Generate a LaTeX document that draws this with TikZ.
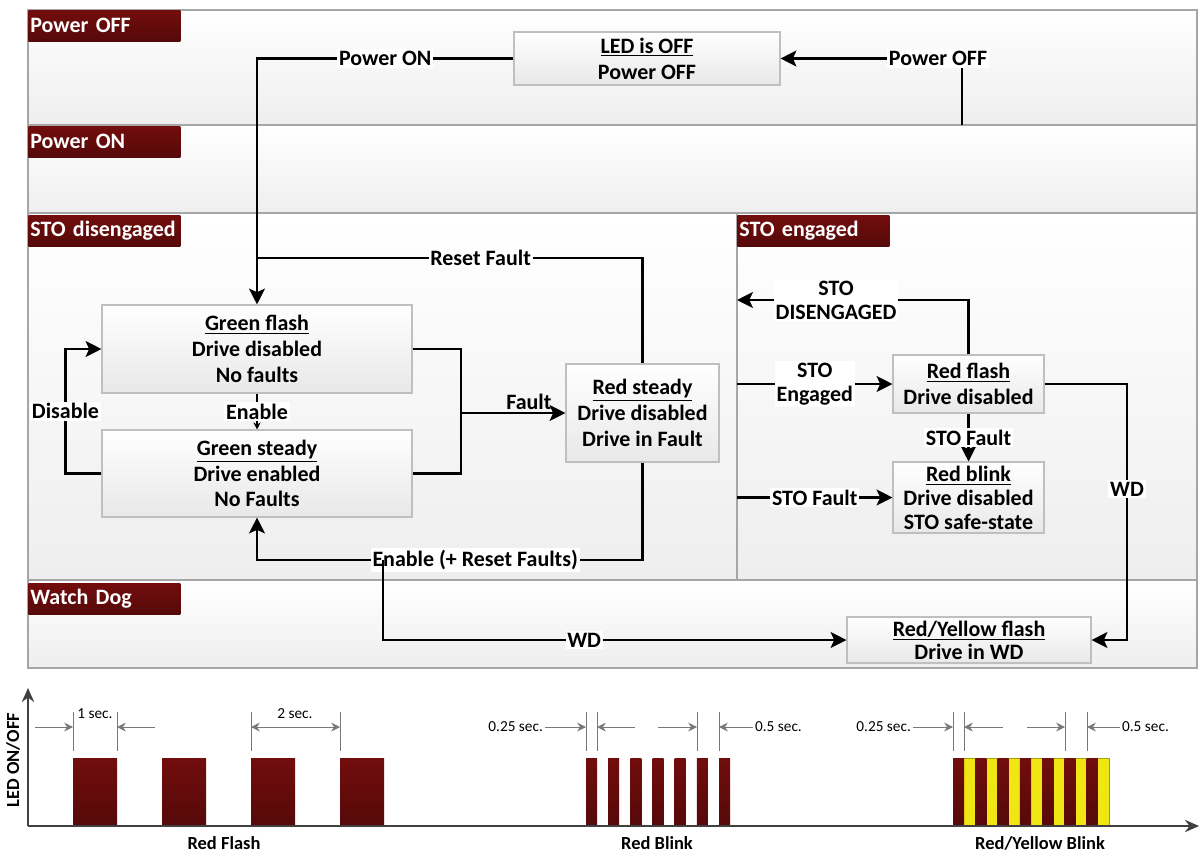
\documentclass[tikz,border=0pt]{standalone}
\usepackage{fontspec}
\setmainfont{Carlito}
\usetikzlibrary{arrows.meta}
\definecolor{cBand}{RGB}{238,238,238}
\definecolor{cBandEdge}{RGB}{166,166,166}
\definecolor{cBoxEdge}{RGB}{191,191,191}
\definecolor{cBoxLow}{RGB}{232,232,232}
\definecolor{cMaroon}{RGB}{114,13,13}
\definecolor{cMaroonLow}{RGB}{86,9,9}
\definecolor{cYellow}{RGB}{240,230,20}
\definecolor{cAxis}{RGB}{64,64,64}
\definecolor{cDim}{RGB}{120,120,120}

\begin{document}
\begin{tikzpicture}[x=0.2mm, y=-0.2mm,
      band/.style={draw=cBandEdge, line width=0.6pt, top color=white, bottom color=cBand},
      tag/.style={anchor=north west, top color=cMaroon, bottom color=cMaroonLow, text=white,
                  text width=29.6mm, inner xsep=0.4mm, minimum height=6.2mm, align=left,
                  font=\bfseries\fontsize{12.5}{14}\selectfont},
      box/.style={draw=cBoxEdge, line width=0.6pt, top color=white, bottom color=cBoxLow,
                  align=center, inner sep=0.5pt, font=\bfseries\fontsize{12.5}{14.7}\selectfont},
      lbl/.style={fill=white, inner sep=1pt, align=center, font=\bfseries\fontsize{12.5}{13.5}\selectfont},
      flow/.style={line width=1.5pt},
      bar/.style={top color=cMaroon, bottom color=cMaroonLow},
      dim/.style={draw=cDim, line width=0.4pt},
      small/.style={font=\fontsize{8.7}{10}\selectfont, inner sep=1pt},
      caption/.style={font=\bfseries\fontsize{10.5}{12}\selectfont},
      >={Stealth[length=9pt, width=9pt, inset=2pt]}]
    \useasboundingbox (0,0) rectangle (1203,855);

    % lanes
    \path[band] (28,10) rectangle (1197,125);
    \path[band] (28,125) rectangle (1197,213);
    \path[band] (28,213) rectangle (1197,580);
    \path[band] (737,213) rectangle (1197,580);
    \path[band] (28,580) rectangle (1197,668);
    \node[tag] (tagOff) at (28,10)  {\mbox{Power OFF}};
    \node[tag] (tagOn)  at (28,126) {\mbox{Power ON}};
    \node[tag] (tagDis) at (28,215) {\mbox{STO disengaged}};
    \node[tag] (tagEng) at (737,215) {\mbox{STO engaged}};
    \node[tag] (tagWd)  at (28,583) {\mbox{Watch Dog}};

    % states
    \node[box, minimum width=53.2mm, minimum height=10.6mm] (ledoff) at (647,58.5)
        {\underline{LED is OFF}\\Power OFF};
    \node[box, minimum width=62mm, minimum height=17.6mm] (gflash) at (257,349)
        {\underline{Green flash}\\Drive disabled\\No faults};
    \node[box, minimum width=62mm, minimum height=17.4mm] (gsteady) at (257,473.5)
        {\underline{Green steady}\\Drive enabled\\No Faults};
    \node[box, minimum width=30.6mm, minimum height=19.6mm] (rsteady) at (642.5,413)
        {\underline{Red steady}\\Drive disabled\\Drive in Fault};
    \node[box, minimum width=30.2mm, minimum height=11.6mm] (rflash) at (968.5,384)
        {\underline{Red flash}\\Drive disabled};
    \node[box, minimum width=30.2mm, minimum height=14.2mm,
          font=\bfseries\fontsize{12.5}{13.6}\selectfont] (rblink) at (968.5,497.5)
        {\underline{Red blink}\\Drive disabled\\STO safe-state};
    \node[box, minimum width=48.8mm, minimum height=9.2mm,
          font=\bfseries\fontsize{12.5}{13}\selectfont] (ryflash) at (969,640)
        {\underline{Red/Yellow flash}\\Drive in WD};

    \coordinate (offsrc) at (962,125);
    \coordinate (rfend)  at (257,258);
    \coordinate (fjoin)  at (461,413);
    \coordinate (wdsrc)  at (383,560);
    \coordinate (disout) at (737,300);
    \coordinate (engin)  at (737,384);
    \coordinate (fltin)  at (737,497.5);

    % transitions
    \draw[flow,->] (ledoff.west) -| node[lbl, pos=0.25] {Power ON} (gflash.north);
    \draw[flow,->] (offsrc) |- node[lbl, pos=0.566] {Power OFF} (ledoff.east);
    \draw[flow] (rsteady.north) |- node[lbl, pos=0.71] {Reset Fault} (rfend);
    \draw[flow,->] (rsteady.south) |- node[lbl, pos=0.717] {Enable (+ Reset Faults)}
        (gsteady.south |- 0,560) -- (gsteady.south);
    \draw[flow,->] (wdsrc) |- node[lbl, pos=0.717] {WD} (ryflash.west);
    \draw[flow] (gflash.east) -| (fjoin) |- (gsteady.east);
    \draw[flow,->] (fjoin) -- node[lbl, above=0pt, pos=0.65, fill=none] {Fault} (rsteady.west);
    \draw[flow,->] (gsteady.west) -- ++(-36,0) |- node[lbl, pos=0.25] {Disable} (gflash.west);
    \draw[line width=0.8pt, -{Stealth[length=4pt, width=4pt]}] (gflash.south)
        -- node[lbl] {Enable} (gsteady.north);
    \draw[flow,->] (rflash.north) |- node[lbl, pos=0.786] {STO\\DISENGAGED} (disout);
    \draw[flow,->] (engin) -- node[lbl] {STO\\Engaged} (rflash.west);
    \draw[flow,->] (rflash.south) -- node[lbl] {STO Fault} (rblink.north);
    \draw[flow,->] (fltin) -- node[lbl] {STO Fault} (rblink.west);
    \draw[flow,->] (rflash.east) -- (rflash.east -| 1127,0)
        -- node[lbl, pos=0.41] {WD} (ryflash.east -| 1127,0) -- (ryflash.east);

    % LED timing
    \foreach \x in {73,162,251,340}
      \path[bar] (\x,758) rectangle ++(44,68);
    \foreach \i in {0,...,6}
      \path[bar] ({586+22.17*\i},758) rectangle ++(11,68);
    \path[fill=cYellow, draw=cYellow!70!black, line width=0.3pt] (953,758) rectangle (1109,826);
    \foreach \i in {0,2,...,12}
      \path[bar] ({953+11.14*\i},758) rectangle ++(11.14,68);

    \coordinate (orig) at (28,826);
    \draw[cAxis, line width=1.2pt, -{Stealth[length=8pt, width=7pt]}] (orig) -- (28,688);
    \draw[cAxis, line width=1.2pt, -{Stealth[length=8pt, width=7pt]}] (orig) -- (1199,826);
    \node[caption, rotate=90] (yaxis) at (13,760) {LED ON/OFF};

    \foreach \x in {73,117,251,340,586,597,697,719,953,964,1065,1087}
      \draw[dim] (\x,712) -- (\x,751);
    \begin{scope}[dim, >={Stealth[length=5pt, width=5pt]}]
      \draw[->] (35,727) -- (73,727);
      \draw[->] (155,727) -- (117,727);
      \draw[<->] (251,727) -- (340,727);
      \draw[->] (545,727) -- (586,727);
      \draw[->] (635,727) -- (597,727);
      \draw[->] (658,727) -- (697,727);
      \draw[->] (753,727) -- (719,727);
      \draw[->] (913,727) -- (953,727);
      \draw[->] (1003,727) -- (964,727);
      \draw[->] (1027,727) -- (1065,727);
      \draw[->] (1120,727) -- (1087,727);
    \end{scope}
    \node[small] (t1) at (95,714) {1 sec.};
    \node[small] (t2) at (295,714) {2 sec.};
    \node[small, anchor=east] (t3) at (545,727) {0.25 sec.};
    \node[small, anchor=west] (t4) at (753,727) {0.5 sec.};
    \node[small, anchor=east] (t5) at (913,727) {0.25 sec.};
    \node[small, anchor=west] (t6) at (1120,727) {0.5 sec.};

    \node[caption] (capA) at (224,843) {Red Flash};
    \node[caption] (capB) at (657,843) {Red Blink};
    \node[caption] (capC) at (1040,843) {Red/Yellow Blink};
  \end{tikzpicture}
\end{document}
